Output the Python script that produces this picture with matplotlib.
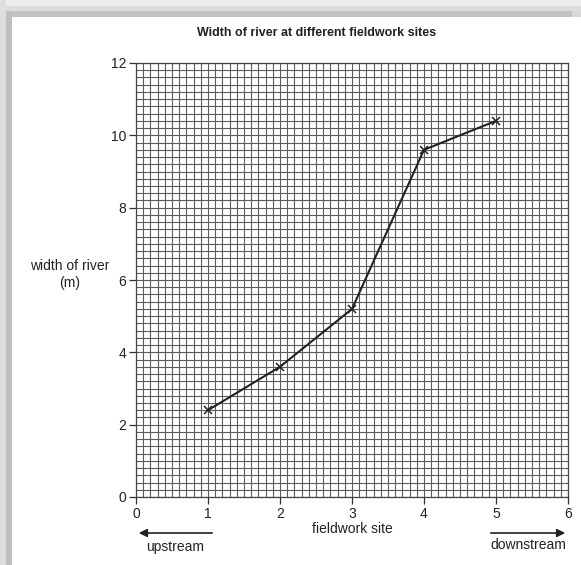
import matplotlib
matplotlib.use("Agg")
import matplotlib.pyplot as plt
import numpy as np
from matplotlib.patches import Rectangle

sites = [1, 2, 3, 4, 5]
widths = [2.4, 3.6, 5.2, 9.6, 10.4]
x_ticks = [0, 1, 2, 3, 4, 5, 6]
y_ticks = [0, 2, 4, 6, 8, 10, 12]

plt.rcParams['font.family'] = ['Liberation Sans', 'DejaVu Sans']

W, H = 581, 565
fig = plt.figure(figsize=(W / 100, H / 100), dpi=100)
fig.patch.set_facecolor('white')

# frame / shadow decoration
def px_rect(x0, y0, x1, y1, color):
    fig.patches.append(Rectangle((x0 / W, 1 - y1 / H), (x1 - x0) / W, (y1 - y0) / H,
                                 transform=fig.transFigure, color=color, zorder=-10, lw=0))

px_rect(0, 0, W, 6, '#ececec')
px_rect(0, 6, W, 11, '#dcdcdc')
px_rect(0, 11, W, 17, '#c2c2c2')
px_rect(0, 0, 6, H, '#dedede')
px_rect(6, 11, 12, H, '#bfbfbf')
px_rect(572, 11, W, 17, '#d8d8d8')

ax = fig.add_axes([136 / W, 1 - 497 / H, 432 / W, 434 / H])
ax.set_xlim(0, 6)
ax.set_ylim(0, 12)

# graph-paper grid
for gx in np.arange(0, 6.0001, 0.1):
    ax.axvline(gx, color='#5c5c5c', lw=0.8, zorder=1)
for gy in np.arange(0, 12.0001, 0.2):
    ax.axhline(gy, color='#5c5c5c', lw=0.8, zorder=1)

ax.plot(sites, widths, color='#222222', lw=1.5, marker='x', ms=6, mew=1.1,
        mec='#222222', zorder=3)

ax.set_xticks(x_ticks)
ax.set_yticks(y_ticks)
ax.tick_params(axis='both', direction='out', length=5, width=0.9, color='#333333',
               labelsize=10, labelcolor='#222222', pad=2)
for s in ax.spines.values():
    s.set_color('#444444')
    s.set_linewidth(0.9)

fig.text(317 / W, 1 - 33 / H, 'Width of river at different fieldwork sites',
         ha='center', va='center', fontsize=9, fontweight='bold', color='#222222')
fig.text(70 / W, 1 - 266 / H, 'width of river', ha='center', va='center',
         fontsize=10, color='#222222')
fig.text(70 / W, 1 - 283 / H, '(m)', ha='center', va='center',
         fontsize=10, color='#222222')
fig.text(352 / W, 1 - 529 / H, 'fieldwork site', ha='center', va='center',
         fontsize=10, color='#222222')
fig.text(175 / W, 1 - 547 / H, 'upstream', ha='center', va='center',
         fontsize=10, color='#222222')
fig.text(528 / W, 1 - 545 / H, 'downstream', ha='center', va='center',
         fontsize=10, color='#222222')

arrow_kw = dict(arrowstyle='-|>', color='#222222', lw=1.2, mutation_scale=12)
ax.annotate('', xy=(136 / W, 1 - 533 / H), xytext=(215 / W, 1 - 533 / H),
            xycoords='figure fraction', textcoords='figure fraction',
            arrowprops=arrow_kw, annotation_clip=False)
ax.annotate('', xy=(568 / W, 1 - 533 / H), xytext=(488 / W, 1 - 533 / H),
            xycoords='figure fraction', textcoords='figure fraction',
            arrowprops=arrow_kw, annotation_clip=False)

fig.savefig('out.png', dpi=100)
